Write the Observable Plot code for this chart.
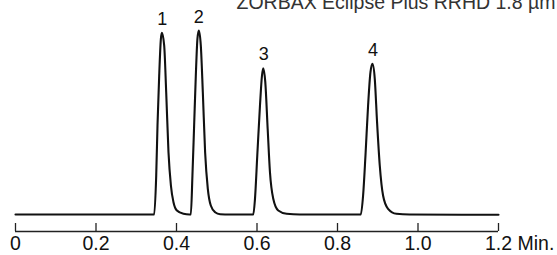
<!DOCTYPE html>
<html>
<head>
<meta charset="utf-8">
<script src="https://cdn.jsdelivr.net/npm/d3@7"></script>
<script src="https://cdn.jsdelivr.net/npm/@observablehq/plot@0.6"></script>
<style>
  html, body { margin: 0; padding: 0; background: #fff; }
  svg { display: block; }
</style>
</head>
<body>
<div id="chart"></div>
<script>
// Retention time (min)
const time = [
  0, 0.20, 0.3446,
  0.3496, 0.3528, 0.3570, 0.3612, 0.3637, 0.3694, 0.3744, 0.3801, 0.3861, 0.3925, 0.4010, 0.4173, 0.4322,
  0.4356, 0.4396, 0.4438, 0.4480, 0.4520, 0.4555, 0.4604, 0.4654, 0.4711, 0.4778, 0.4852, 0.4959, 0.5083, 0.5331,
  0.5908, 0.5950, 0.6007, 0.6074, 0.6124, 0.6156, 0.6206, 0.6265, 0.6322, 0.6404, 0.6528, 0.6736, 0.7066,
  0.8579, 0.8636, 0.8695, 0.8760, 0.8819, 0.8869, 0.8926, 0.8983, 0.9050, 0.9132, 0.9256, 0.9464, 0.9793,
  1.2
];
// Detector signal (arbitrary units, baseline = 0)
const signal = [
  0, 0, 0,
  39, 89, 139, 175.7, 181.7, 169, 122.3, 62.3, 29, 12.3, 4, 0.7, 0,
  0, 39, 89, 139, 175.7, 184, 169, 122.3, 62.3, 25.7, 9, 2.3, 0.3, 0,
  0, 15.7, 59, 109, 139, 146.3, 132.3, 85.7, 42.3, 15.7, 4, 0.7, 0,
  0, 19, 59, 109, 142.3, 150.7, 135.7, 92.3, 49, 19, 5.7, 0.7, 0,
  -0.3
];
const peakLabels = ["1", "2", "3", "4"];
const peakTimes = [0.3645, 0.4555, 0.6170, 0.8885];
const peakHeights = [181.7, 184, 146.3, 150.7];
const tickValues = [0, 0.2, 0.4, 0.6, 0.8, 1.0, 1.2];
const tickLabels = ["0", "0.2", "0.4", "0.6", "0.8", "1.0", "1.2"];
const unitLabel = "Min.";
const title = "ZORBAX Eclipse Plus RRHD 1.8 µm";

const trace = time.map((t, i) => ({t, s: signal[i]}));
const peaks = peakLabels.map((label, i) => ({label, t: peakTimes[i], s: peakHeights[i]}));
const yDomain = [-17, 200];
const xDomain = [0, 1.2];

const chart = Plot.plot({
  width: 557,
  height: 255,
  marginLeft: 15,
  marginRight: 59,
  marginTop: 14,
  marginBottom: 24,
  style: {fontFamily: "'Liberation Sans', Arial, Helvetica, sans-serif", color: "#111", background: "#fff"},
  x: {domain: xDomain},
  y: {domain: yDomain, axis: null},
  marks: [
    Plot.ruleY([yDomain[0]], {stroke: "#222", strokeWidth: 1.3}),
    Plot.axisX({
      ticks: tickValues,
      tickFormat: (d) => tickLabels[tickValues.findIndex(v => Math.abs(v - d) < 1e-9)],
      tickSize: -8,
      tickPadding: 13,
      fontSize: 19.5,
      stroke: "#222",
      strokeWidth: 1.3,
      label: null
    }),
    Plot.text([unitLabel], {
      x: xDomain[1], y: yDomain[0], text: d => d,
      textAnchor: "start", lineAnchor: "top", dx: 19, dy: 5,
      fontSize: 19.5, fill: "#111"
    }),
    Plot.line(trace, {x: "t", y: "s", stroke: "#111", strokeWidth: 2.1, curve: "monotone-x"}),
    Plot.text(peaks, {
      x: "t", y: "s", text: "label",
      lineAnchor: "bottom", dy: -8, fontSize: 18, fill: "#111"
    }),
    Plot.text([title], {
      frameAnchor: "top-right", text: d => d,
      textAnchor: "end", lineAnchor: "bottom",
      dx: 57, dy: -6, fontSize: 19.5, fill: "#333"
    })
  ]
});
document.getElementById("chart").appendChild(chart);
</script>
</body>
</html>
